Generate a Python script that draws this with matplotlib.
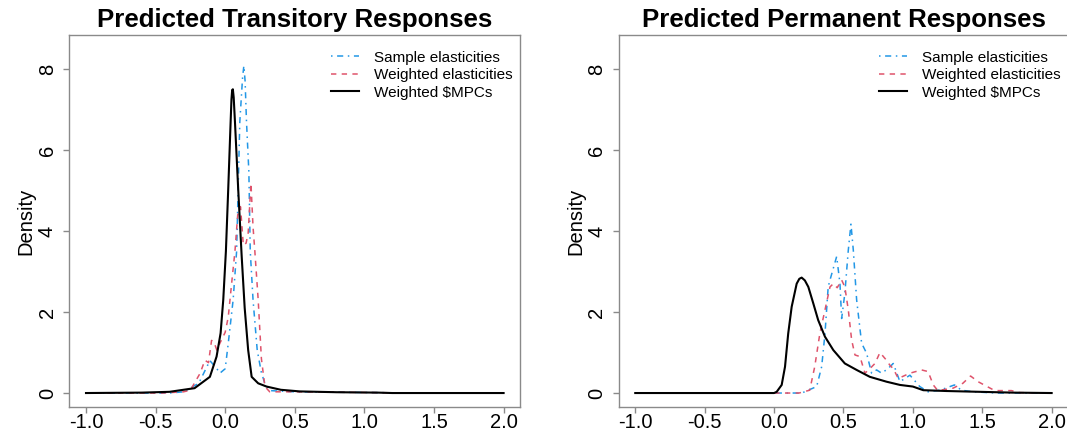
import matplotlib
matplotlib.use("Agg")
import matplotlib.pyplot as plt

plt.rcParams['font.family'] = ['Liberation Sans', 'DejaVu Sans']

# density estimates, transitory responses
tr_sample_x = [-1.0, -0.4, -0.3, -0.19, -0.11, -0.06, -0.038, 0.0, 0.022, 0.057, 0.082,
               0.105, 0.125, 0.134, 0.143, 0.153, 0.17, 0.18, 0.2, 0.23, 0.26, 0.285,
               0.32, 0.5, 0.8, 1.1, 1.3, 2.0]
tr_sample_y = [0.0, 0.0, 0.03, 0.24, 0.8, 0.6, 0.49, 0.6, 1.23, 2.3, 3.5,
               6.7, 7.8, 8.08, 7.7, 6.7, 5.46, 3.5, 2.3, 1.06, 0.5, 0.24,
               0.06, 0.03, 0.02, 0.01, 0.0, 0.0]

tr_weighted_x = [-1.0, -0.45, -0.3, -0.25, -0.18, -0.146, -0.12, -0.098, -0.08, -0.06,
                 -0.038, 0.0, 0.022, 0.046, 0.07, 0.09, 0.11, 0.13, 0.15, 0.165,
                 0.185, 0.2, 0.213, 0.237, 0.26, 0.285, 0.32, 0.5, 0.8, 1.1, 1.3, 2.0]
tr_weighted_y = [0.0, 0.0, 0.03, 0.07, 0.49, 0.81, 0.75, 1.3, 1.25, 1.06,
                 1.23, 1.5, 1.88, 2.7, 3.5, 4.4, 4.6, 3.65, 3.7, 3.95,
                 5.18, 4.1, 3.5, 2.3, 0.85, 0.16, 0.03, 0.03, 0.02, 0.01, 0.0, 0.0]

tr_mpc_x = [-1.0, -0.6, -0.4, -0.22, -0.11, -0.062, -0.033, -0.014, 0.005, 0.022,
            0.039, 0.045, 0.05, 0.055, 0.061, 0.07, 0.093, 0.118, 0.14, 0.165, 0.19,
            0.237, 0.297, 0.4, 0.536, 0.8, 1.1, 1.2, 2.0]
tr_mpc_y = [0.0, 0.01, 0.03, 0.12, 0.4, 0.9, 1.48, 2.3, 3.5, 5.06,
            6.7, 7.25, 7.48, 7.5, 7.3, 6.7, 5.06, 3.4, 2.1, 1.06, 0.4,
            0.24, 0.16, 0.08, 0.04, 0.02, 0.01, 0.0, 0.0]

# density estimates, permanent responses
pm_sample_x = [-1.0, 0.2, 0.22, 0.307, 0.343, 0.367, 0.39, 0.403, 0.451, 0.475,
               0.487, 0.51, 0.535, 0.554, 0.571, 0.595, 0.631, 0.667, 0.703, 0.739,
               0.775, 0.82, 0.859, 0.907, 0.979, 1.05, 1.11, 1.195, 1.3, 1.35,
               1.435, 1.6, 2.0]
pm_sample_y = [0.0, 0.0, 0.03, 0.16, 0.65, 1.47, 2.62, 2.79, 3.37, 2.7,
               1.84, 2.46, 3.53, 4.17, 3.53, 2.3, 1.23, 0.98, 0.49, 0.57,
               0.49, 0.6, 0.73, 0.28, 0.44, 0.16, 0.03, 0.07, 0.2, 0.07,
               0.03, 0.0, 0.0]

pm_weighted_x = [-1.0, 0.18, 0.257, 0.293, 0.33, 0.37, 0.403, 0.427, 0.455, 0.487,
                 0.51, 0.535, 0.559, 0.583, 0.619, 0.655, 0.69, 0.727, 0.763, 0.81,
                 0.834, 0.859, 0.895, 0.979, 1.063, 1.11, 1.147, 1.18, 1.29, 1.36,
                 1.416, 1.47, 1.53, 1.59, 1.71, 1.77, 2.0]
pm_weighted_y = [0.0, 0.0, 0.07, 0.65, 1.47, 2.1, 2.62, 2.7, 2.6, 2.79,
                 2.62, 2.05, 1.31, 0.94, 0.9, 0.49, 0.6, 0.73, 1.0, 0.81,
                 0.69, 0.6, 0.36, 0.49, 0.57, 0.53, 0.2, 0.06, 0.12, 0.24,
                 0.42, 0.28, 0.17, 0.06, 0.06, 0.01, 0.0]

pm_mpc_x = [-1.0, 0.0, 0.019, 0.055, 0.079, 0.102, 0.127, 0.163, 0.182, 0.199,
            0.222, 0.247, 0.283, 0.318, 0.367, 0.427, 0.51, 0.595, 0.69, 0.81,
            0.907, 1.0, 1.075, 1.24, 1.48, 1.72, 2.0]
pm_mpc_y = [0.0, 0.0, 0.03, 0.2, 0.65, 1.47, 2.13, 2.7, 2.82, 2.85,
            2.78, 2.62, 2.21, 1.8, 1.39, 1.06, 0.73, 0.57, 0.4, 0.28,
            0.2, 0.16, 0.07, 0.05, 0.03, 0.01, 0.0]

titles = ["Predicted Transitory Responses", "Predicted Permanent Responses"]
labels = ["Sample elasticities", "Weighted elasticities", "Weighted $MPCs"]
xticks = [-1.0, -0.5, 0.0, 0.5, 1.0, 1.5, 2.0]
yticks = [0, 2, 4, 6, 8]

panels = [
    [(tr_sample_x, tr_sample_y), (tr_weighted_x, tr_weighted_y), (tr_mpc_x, tr_mpc_y)],
    [(pm_sample_x, pm_sample_y), (pm_weighted_x, pm_weighted_y), (pm_mpc_x, pm_mpc_y)],
]

styles = [
    dict(color="#2297E6", lw=1.1, dashes=(1, 3, 4, 3)),
    dict(color="#DF536B", lw=1.1, dashes=(3.5, 3.5)),
    dict(color="black", lw=1.5),
]

W, H = 1067, 433
fig = plt.figure(figsize=(W / 100, H / 100), dpi=100)
axes = [fig.add_axes([69.3 / W, 26.2 / H, 451 / W, 371.8 / H]),
        fig.add_axes([618.6 / W, 26.2 / H, 449.7 / W, 371.8 / H])]

axis_grey = "#8a8a8a"
for ax, title, series in zip(axes, titles, panels):
    for (x, y), st, lab in zip(series, styles, labels):
        ax.plot(x, y, label=lab, **st)
    ax.set_xlim(-1.12, 2.12)
    ax.set_ylim(-0.34, 8.84)
    ax.set_xticks(xticks)
    ax.set_xticklabels([f"{t:.1f}" for t in xticks])
    ax.set_yticks(yticks)
    ax.set_yticklabels([str(t) for t in yticks], rotation=90, va="center")
    ax.tick_params(axis="both", labelsize=14.5, length=4, width=1, color=axis_grey)
    ax.tick_params(axis="x", pad=0.5)
    ax.tick_params(axis="y", pad=5)
    for sp in ax.spines.values():
        sp.set_color(axis_grey)
        sp.set_linewidth(1)
    ax.set_ylabel("Density", fontsize=14.5, labelpad=1.5)
    ax.set_title(title, fontsize=18.6, fontweight="bold", pad=6)
    ax.legend(loc="upper right", bbox_to_anchor=(1.0, 0.978), frameon=False,
              fontsize=11, handlelength=1.85, handletextpad=0.98,
              labelspacing=0.22, borderaxespad=0.3, borderpad=0.2)

fig.savefig("out.png", dpi=100)
